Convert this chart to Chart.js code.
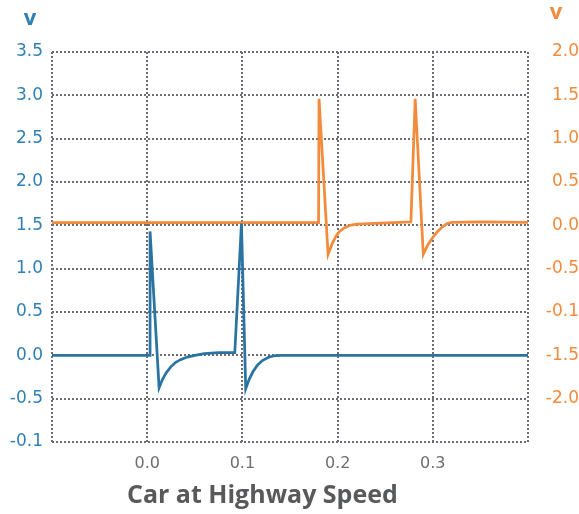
<!DOCTYPE html>
<html>
<head>
<meta charset="utf-8">
<script src="https://cdn.jsdelivr.net/npm/chart.js@4"></script>
<style>
  html, body { margin: 0; padding: 0; background: #fff; }
  #wrap { width: 579px; height: 514px; }
</style>
</head>
<body>
<div id="wrap"><canvas id="chart" width="579" height="514"></canvas></div>
<script>
// 波形データ
const blueX = [-0.1, 0.003, 0.003, 0.0125, 0.016, 0.02, 0.025, 0.03, 0.035, 0.042, 0.05, 0.06, 0.075, 0.092,
               0.099, 0.1035, 0.107, 0.111, 0.116, 0.121, 0.127, 0.133, 0.14, 0.4];
const blueY = [0.0, 0.0, 1.43, -0.375, -0.28, -0.2, -0.13, -0.08, -0.05, -0.02, 0.0, 0.02, 0.03, 0.03,
               1.52, -0.385, -0.28, -0.19, -0.11, -0.06, -0.025, -0.005, 0.0, 0.0];

const orangeX = [-0.1, 0.18, 0.1805, 0.19, 0.194, 0.198, 0.202, 0.207, 0.213, 0.22, 0.277,
                 0.2815, 0.29, 0.295, 0.3, 0.305, 0.31, 0.315, 0.32, 0.35, 0.4];
const orangeY = [0.03, 0.03, 1.46, -0.335, -0.22, -0.13, -0.07, -0.03, 0.0, 0.015, 0.04,
                 1.46, -0.335, -0.22, -0.14, -0.07, -0.02, 0.02, 0.035, 0.04, 0.035];

// 目盛りラベル（下から順）
const xTickLabels = ['', '0.0', '0.1', '0.2', '0.3', ''];
const leftTickLabels = ['-0.1', '-0.5', '0.0', '0.5', '1.0', '1.5', '2.0', '2.5', '3.0', '3.5'];
const rightTickLabels = ['', '-2.0', '-1.5', '-0.1', '-0.5', '0.0', '0.5', '1.0', '1.5', '2.0'];

const xAxisTitle = 'Car at Highway Speed';
const leftUnit = 'v';
const rightUnit = 'v';

const BLUE = '#2a73a2';
const BLUE_TEXT = '#3080b4';
const ORANGE = '#f28b3b';
const GRID = '#6b6c74';
const FONT = "'Open Sans', sans-serif";
const TICK_FONT = "'DejaVu Sans', sans-serif";

const toPoints = (xs, ys) => xs.map((x, i) => ({ x: x, y: ys[i] }));

// 軸タイトル・単位ラベルの描画
const labelPlugin = {
    id: 'labels',
    afterDraw(chart) {
        const ctx = chart.ctx;
        const area = chart.chartArea;
        ctx.save();
        ctx.textAlign = 'center';
        ctx.textBaseline = 'middle';
        ctx.font = `bold 22px ${FONT}`;
        ctx.fillStyle = BLUE_TEXT;
        ctx.fillText(leftUnit, 30, 19);
        ctx.fillStyle = ORANGE;
        ctx.fillText(rightUnit, 556, 13);

        ctx.font = `bold 25px ${FONT}`;
        ctx.fillStyle = '#58595b';
        ctx.fillText(xAxisTitle, area.left + area.width * 0.442, 496);
        ctx.restore();
    }
};

const gridOpts = { color: GRID, lineWidth: 2, drawTicks: false };
const borderOpts = { display: false, dash: [2, 2] };

new Chart(document.getElementById('chart'), {
    type: 'line',
    data: {
        datasets: [
            {
                label: 'blue',
                data: toPoints(blueX, blueY),
                yAxisID: 'y',
                borderColor: BLUE,
                borderWidth: 2.75,
                pointRadius: 0,
                tension: 0,
                fill: false
            },
            {
                label: 'orange',
                data: toPoints(orangeX, orangeY),
                yAxisID: 'y1',
                borderColor: ORANGE,
                borderWidth: 2.75,
                pointRadius: 0,
                tension: 0,
                fill: false
            }
        ]
    },
    options: {
        responsive: false,
        animation: false,
        devicePixelRatio: 1,
        layout: { padding: { top: 52, left: 0, right: 0, bottom: 0 } },
        plugins: {
            legend: { display: false },
            tooltip: { enabled: false }
        },
        scales: {
            x: {
                type: 'linear',
                min: -0.1,
                max: 0.4,
                afterFit: s => { s.height = 72; },
                border: borderOpts,
                grid: gridOpts,
                ticks: {
                    stepSize: 0.1,
                    padding: 12,
                    color: '#6d6e71',
                    font: { family: TICK_FONT, size: 16 },
                    callback: (v, i) => xTickLabels[i] ?? ''
                }
            },
            y: {
                position: 'left',
                min: -1.0,
                max: 3.5,
                afterFit: s => { s.width = 52; },
                border: borderOpts,
                grid: gridOpts,
                ticks: {
                    stepSize: 0.5,
                    padding: 9,
                    color: BLUE_TEXT,
                    font: { family: TICK_FONT, size: 17 },
                    callback: (v, i) => leftTickLabels[i] ?? ''
                }
            },
            y1: {
                position: 'right',
                min: -2.5,
                max: 2.0,
                afterFit: s => { s.width = 51; },
                border: { display: false },
                grid: { display: false, drawTicks: false },
                ticks: {
                    stepSize: 0.5,
                    padding: 14,
                    crossAlign: 'far',
                    color: ORANGE,
                    font: { family: TICK_FONT, size: 17 },
                    callback: (v, i) => rightTickLabels[i] ?? ''
                }
            }
        }
    },
    plugins: [labelPlugin]
});
</script>
</body>
</html>
